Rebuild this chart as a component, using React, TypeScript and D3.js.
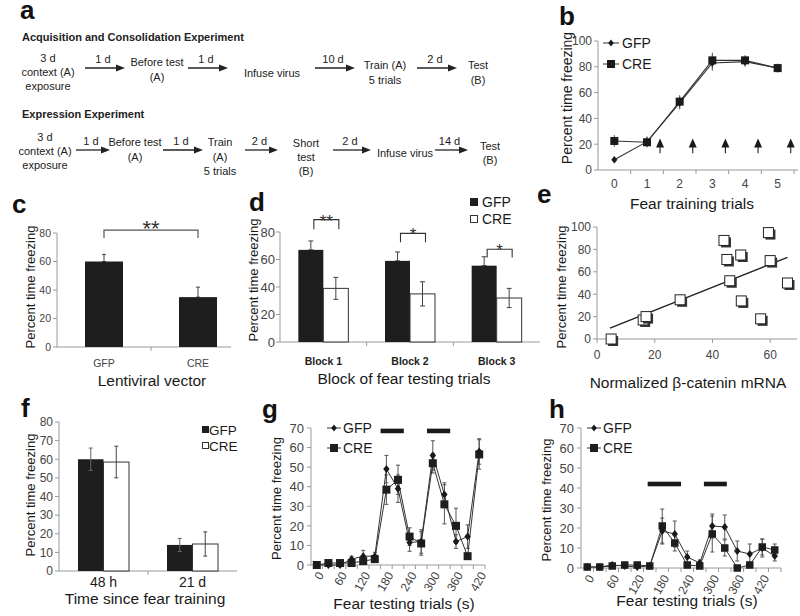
import React from 'react';
import * as d3 from 'd3';

const FONT = '"Liberation Sans", Arial, Helvetica, sans-serif';
const NARROW = '"Liberation Sans Narrow", "Arial Narrow", "Liberation Sans", Arial, sans-serif';
const AX = '#9a9a9a';
const TXT = '#1a1a1a';
const TICK_TXT = '#444';
const BAR = '#1e1e1e';

// ---------------- Panel a (timeline) ----------------
const acqSteps = [['3 d', 'context (A)', 'exposure'], ['Before test', '(A)'], ['Infuse virus'], ['Train (A)', '5 trials'], ['Test', '(B)']];
const acqIntervals = ['1 d', '1 d', '10 d', '2 d'];
const expSteps = [['3 d', 'context (A)', 'exposure'], ['Before test', '(A)'], ['Train', '(A)', '5 trials'], ['Short', 'test', '(B)'], ['Infuse virus'], ['Test', '(B)']];
const expIntervals = ['1 d', '1 d', '2 d', '2 d', '14 d'];

// ---------------- Panel b ----------------
const trainTrials = [0, 1, 2, 3, 4, 5];
const bGfp = [8, 22, 52, 83, 84, 79];
const bGfpErr = [1, 4, 5, 6, 4, 3];
const bCre = [22.5, 21.5, 53, 85, 85, 79];
const bCreErr = [4.5, 4, 5, 6, 4, 3.5];
const bShocks = [1.4, 2.4, 3.4, 4.4, 5.4];
const bYTicks = [0, 20, 40, 60, 80, 100];

// ---------------- Panel c ----------------
const cGroups = ['GFP', 'CRE'];
const cValues = [60, 35];
const cErr = [5, 7];
const cYTicks = [0, 20, 40, 60, 80];

// ---------------- Panel d ----------------
const dBlocks = ['Block 1', 'Block 2', 'Block 3'];
const dGfp = [67, 59, 55.5];
const dGfpErr = [6.5, 6.5, 6.5];
const dCre = [39, 35, 32];
const dCreErr = [8, 8.8, 7];
const dSig = ['**', '*', '*'];
const dYTicks = [0, 20, 40, 60, 80];

// ---------------- Panel e ----------------
const eMrna = [4.9, 16, 17, 28.8, 44, 45, 46, 49.8, 50, 56.7, 59.4, 60, 66];
const eFreeze = [0, 17, 20, 35, 88, 71, 52, 75, 34, 18, 95, 70, 50];
const eXTicks = [0, 20, 40, 60];
const eYTicks = [0, 20, 40, 60, 80, 100];

// ---------------- Panel f ----------------
const fTimes = ['48 h', '21 d'];
const fGfp = [60, 14];
const fGfpErr = [6, 3.5];
const fCre = [58.5, 14.5];
const fCreErr = [8.5, 6.5];
const fYTicks = [0, 10, 20, 30, 40, 50, 60, 70, 80];

// ---------------- Panel g ----------------
const gTimes = [0, 30, 60, 90, 120, 150, 180, 210, 240, 270, 300, 330, 360, 390, 420];
const gGfp = [0, 0, 0, 3, 4.5, 4.5, 49, 39, 11.5, 12, 56, 36, 12, 14.5, 58];
const gGfpErr = [0.5, 0.5, 0.5, 1.5, 3, 2, 7, 7, 4.5, 6, 7.5, 6, 3.5, 6, 6.5];
const gCre = [0, 1, 1, 1, 2, 3, 38.5, 43.5, 14.5, 11, 52, 31, 20, 4.5, 56.5];
const gCreErr = [0.5, 0.5, 0.5, 1, 1.5, 1.5, 7.5, 7.5, 4.5, 6, 5, 10, 9, 1, 7.5];
const gTone = [[180, 240], [300, 360]];
const gXLabels = [0, 60, 120, 180, 240, 300, 360, 420];
const gYTicks = [0, 10, 20, 30, 40, 50, 60, 70];

// ---------------- Panel h ----------------
const hTimes = [0, 30, 60, 90, 120, 150, 180, 210, 240, 270, 300, 330, 360, 390, 420, 450];
const hGfp = [0.5, 0.5, 1.5, 1, 0.5, 1, 18.5, 17, 5.5, 2.5, 21, 20.5, 8.5, 7, 10, 6];
const hGfpErr = [0.5, 0.5, 1, 1, 0.5, 0.5, 6.5, 6.5, 3, 1.5, 6, 6, 5, 5, 4.5, 2.5];
const hCre = [0.5, 0.5, 1, 1.5, 1.5, 1, 21, 12.5, 1.5, 1, 17, 10, 0, 1.5, 10.5, 9];
const hCreErr = [0.5, 0.5, 0.5, 0.5, 0.5, 0.5, 8.5, 4, 0.5, 0.5, 9, 4, 0.5, 0.5, 4, 3];
const hTone = [[160, 240], [295, 350]];
const hXLabels = [0, 60, 120, 180, 240, 300, 360, 420];
const hYTicks = [0, 10, 20, 30, 40, 50, 60, 70];

// ---------------- helpers ----------------
const diamondPath = (x: number, y: number, r: number) =>
  `M${x},${y - r}L${x + r * 0.8},${y}L${x},${y + r}L${x - r * 0.8},${y}Z`;

function PanelLetter({ x, y, t }: any) {
  return <text x={x} y={y} fontSize={26} fontWeight="bold" fill="#111">{t}</text>;
}

function YTitle({ x, y, t, size = 13 }: any) {
  return (
    <text transform={`translate(${x},${y}) rotate(-90)`} textAnchor="middle" fontSize={size} fill={TXT}>{t}</text>
  );
}

function YAxis({ scale, ticks, x, labelX, size, font = FONT }: any) {
  const [r0, r1] = scale.range();
  return (
    <g>
      <line x1={x} x2={x} y1={r0} y2={r1} stroke={AX} />
      {ticks.map((t: number) => (
        <g key={t}>
          <line x1={x - 4} x2={x} y1={scale(t)} y2={scale(t)} stroke={AX} />
          <text x={labelX} y={scale(t) + size * 0.36} textAnchor="end" fontSize={size} fill={TICK_TXT} fontFamily={font}>{t}</text>
        </g>
      ))}
    </g>
  );
}

function ErrBar({ x, y0, y1, cap = 4, color = '#333', w = 1 }: any) {
  return (
    <g stroke={color} strokeWidth={w}>
      <line x1={x} x2={x} y1={y0} y2={y1} />
      {cap > 0 && <line x1={x - cap / 2} x2={x + cap / 2} y1={y0} y2={y0} />}
      {cap > 0 && <line x1={x - cap / 2} x2={x + cap / 2} y1={y1} y2={y1} />}
    </g>
  );
}

function Arrow({ x1, x2, y }: any) {
  return (
    <g>
      <line x1={x1} x2={x2 - 7} y1={y} y2={y} stroke="#222" strokeWidth={1.3} />
      <polygon points={`${x2},${y} ${x2 - 9},${y - 3.5} ${x2 - 9},${y + 3.5}`} fill="#222" />
    </g>
  );
}

function Steps({ steps, xs, ys }: any) {
  return (
    <g>
      {steps.map((lines: string[], i: number) =>
        lines.map((ln, j) => (
          <text key={i + '-' + j} x={xs[i]} y={ys[i] - (lines.length - 1) * 7.2 + j * 14.4 + 4} textAnchor="middle" fontSize={11} fill="#222">{ln}</text>
        ))
      )}
    </g>
  );
}

function Intervals({ labels, spans, y }: any) {
  return (
    <g>
      {labels.map((l: string, i: number) => (
        <g key={i}>
          <Arrow x1={spans[i][0]} x2={spans[i][1]} y={y} />
          <text x={(spans[i][0] + spans[i][1]) / 2 - 2} y={y - 5} textAnchor="middle" fontSize={11} fill="#222">{l}</text>
        </g>
      ))}
    </g>
  );
}

// ---------------- Panels ----------------
function PanelA() {
  return (
    <g>
      <PanelLetter x={20} y={19} t="a" />
      <text x={22} y={41} fontSize={11} fontWeight="bold" fill="#222">Acquisition and Consolidation Experiment</text>
      <Steps steps={acqSteps} xs={[48, 157, 272, 385, 478]} ys={[72, 69.5, 73, 72.5, 72.5]} />
      <Intervals labels={acqIntervals} spans={[[85, 125], [188, 228], [315, 355], [417, 457]]} y={68} />
      <text x={22} y={118} fontSize={11} fontWeight="bold" fill="#222">Expression Experiment</text>
      <Steps steps={expSteps} xs={[45, 135, 220, 306, 405, 490]} ys={[151, 149.5, 156.5, 157, 153, 153]} />
      <Intervals labels={expIntervals} spans={[[76, 110], [163, 203], [245, 278], [333, 371], [435, 468]]} y={150} />
    </g>
  );
}

function PanelB() {
  const x = d3.scaleLinear().domain([-0.5, 5.5]).range([598, 794]);
  const y = d3.scaleLinear().domain([0, 100]).range([170, 41]);
  const line = d3.line<number>().x((_, i) => x(trainTrials[i])).y((d) => y(d));
  return (
    <g>
      <PanelLetter x={559} y={25} t="b" />
      <YAxis scale={y} ticks={bYTicks} x={598} labelX={592} size={12} />
      <line x1={598} x2={798} y1={170} y2={170} stroke={AX} />
      {trainTrials.map((t) => (
        <g key={t}>
          <line x1={x(t + 0.5)} x2={x(t + 0.5)} y1={170} y2={174} stroke={AX} />
          <text x={x(t)} y={188} textAnchor="middle" fontSize={12} fill={TICK_TXT}>{t}</text>
        </g>
      ))}
      {bGfp.map((v, i) => <ErrBar key={'ge' + i} x={x(trainTrials[i])} y0={y(v - bGfpErr[i])} y1={y(v + bGfpErr[i])} cap={0} color="#555" />)}
      {bCre.map((v, i) => <ErrBar key={'ce' + i} x={x(trainTrials[i])} y0={y(v - bCreErr[i])} y1={y(v + bCreErr[i])} cap={0} color="#555" />)}
      <path d={line(bGfp) || ''} fill="none" stroke="#333" strokeWidth={1.1} />
      <path d={line(bCre) || ''} fill="none" stroke="#333" strokeWidth={1.1} />
      {bGfp.map((v, i) => <path key={'gm' + i} d={diamondPath(x(trainTrials[i]), y(v), 3.8)} fill="#1a1a1a" />)}
      {bCre.map((v, i) => <rect key={'cm' + i} x={x(trainTrials[i]) - 4} y={y(v) - 4} width={8} height={8} fill="#1a1a1a" />)}
      {bShocks.map((s, i) => (
        <g key={'s' + i}>
          <line x1={x(s)} x2={x(s)} y1={y(18)} y2={y(13)} stroke="#333" strokeWidth={1.2} />
          <polygon points={`${x(s)},${y(24.5)} ${x(s) - 4},${y(17.5)} ${x(s) + 4},${y(17.5)}`} fill="#1a1a1a" />
        </g>
      ))}
      {/* legend */}
      <line x1={603} x2={619} y1={43} y2={43} stroke="#333" />
      <path d={diamondPath(611, 43, 3.5)} fill="#1a1a1a" />
      <text x={622} y={48} fontSize={14} fill={TXT}>GFP</text>
      <line x1={603} x2={619} y1={64} y2={64} stroke="#333" />
      <rect x={607} y={60} width={8} height={8} fill="#1a1a1a" />
      <text x={622} y={69} fontSize={14} fill={TXT}>CRE</text>
      <YTitle x={572} y={98} t="Percent time freezing" size={14} />
      <text x={692} y={209} textAnchor="middle" fontSize={15.5} fill={TXT}>Fear training trials</text>
    </g>
  );
}

function PanelC() {
  const x = d3.scaleBand<string>().domain(cGroups).range([57, 245]);
  const y = d3.scaleLinear().domain([0, 80]).range([347, 233]);
  const bw = 38;
  const c0 = x('GFP')! + x.bandwidth() / 2;
  const c1 = x('CRE')! + x.bandwidth() / 2;
  return (
    <g>
      <PanelLetter x={12} y={213} t="c" />
      <YAxis scale={y} ticks={cYTicks} x={57} labelX={51} size={10.5} font={NARROW} />
      <line x1={57} x2={231} y1={347} y2={347} stroke={AX} />
      <line x1={x('CRE')!} x2={x('CRE')!} y1={347} y2={351} stroke={AX} />
      {cGroups.map((g, i) => {
        const cx = x(g)! + x.bandwidth() / 2;
        return (
          <g key={g}>
            <ErrBar x={cx} y0={y(cValues[i])} y1={y(cValues[i] + cErr[i])} cap={4} color="#444" />
            <rect x={cx - bw / 2} y={y(cValues[i])} width={bw} height={347 - y(cValues[i])} fill={BAR} />
            <text x={cx} y={367} textAnchor="middle" fontSize={10.5} fill={TICK_TXT} fontFamily={NARROW}>{g}</text>
          </g>
        );
      })}
      <path d={`M${c0},${y(76.5)}V${y(82)}H${c1}V${y(76.5)}`} fill="none" stroke="#555" strokeWidth={1.2} />
      <text x={(c0 + c1) / 2} y={236} textAnchor="middle" fontSize={22} fill="#333">**</text>
      <YTitle x={35} y={287} t="Percent time freezing" />
      <text x={152} y={386} textAnchor="middle" fontSize={15.5} fill={TXT}>Lentiviral vector</text>
    </g>
  );
}

function PanelD() {
  const x = d3.scaleBand<string>().domain(dBlocks).range([280, 540]);
  const y = d3.scaleLinear().domain([0, 80]).range([342, 232]);
  const bw = 25;
  const brTop = [89, 79, 67.5];
  const brLen = [7, 6.5, 6];
  return (
    <g>
      <PanelLetter x={249} y={211} t="d" />
      <YAxis scale={y} ticks={dYTicks} x={280} labelX={275} size={13} />
      <line x1={280} x2={540} y1={342} y2={342} stroke={AX} />
      {dBlocks.slice(1).map((b) => (
        <line key={b} x1={x(b)!} x2={x(b)!} y1={342} y2={346} stroke={AX} />
      ))}
      {dBlocks.map((b, i) => {
        const cx = x(b)! + x.bandwidth() / 2;
        const g0 = cx - bw / 2;
        const c0 = cx + bw / 2;
        return (
          <g key={b}>
            <ErrBar x={g0} y0={y(dGfp[i])} y1={y(dGfp[i] + dGfpErr[i])} cap={5} color="#444" />
            <rect x={cx - bw} y={y(dGfp[i])} width={bw} height={342 - y(dGfp[i])} fill={BAR} />
            <rect x={cx} y={y(dCre[i])} width={bw} height={342 - y(dCre[i])} fill="#fff" stroke="#333" />
            <ErrBar x={c0} y0={y(dCre[i] - dCreErr[i])} y1={y(dCre[i] + dCreErr[i])} cap={5} color="#444" />
            <path d={`M${g0 + 3},${y(brTop[i] - brLen[i])}V${y(brTop[i])}H${c0 + 3}V${y(brTop[i] - brLen[i])}`} fill="none" stroke="#333" strokeWidth={1.1} />
            <text x={cx + 3} y={y(brTop[i]) + 7} textAnchor="middle" fontSize={17} fill="#333">{dSig[i]}</text>
            <text x={cx} y={365} textAnchor="middle" fontSize={10.5} fontWeight="bold" fill="#222" fontFamily={NARROW}>{b}</text>
          </g>
        );
      })}
      <rect x={470} y={198} width={8} height={8} fill={BAR} />
      <text x={482} y={207} fontSize={14} fill={TXT}>GFP</text>
      <rect x={470.5} y={215.5} width={7} height={7} fill="#fff" stroke="#333" />
      <text x={482} y={224} fontSize={14} fill={TXT}>CRE</text>
      <YTitle x={258} y={280} t="Percent time freezing" />
      <text x={404} y={384} textAnchor="middle" fontSize={15.5} fill={TXT}>Block of fear testing trials</text>
    </g>
  );
}

function PanelE() {
  const x = d3.scaleLinear().domain([0, 69.3]).range([597, 797]);
  const y = d3.scaleLinear().domain([0, 100]).range([339, 227]);
  const mx = d3.mean(eMrna)!;
  const my = d3.mean(eFreeze)!;
  const sxy = d3.sum(eMrna.map((v, i) => (v - mx) * (eFreeze[i] - my)));
  const sxx = d3.sum(eMrna.map((v) => (v - mx) * (v - mx)));
  const slope = sxy / sxx;
  const icpt = my - slope * mx;
  const xa = 4.5;
  const xb = 66;
  const s = 10;
  return (
    <g>
      <PanelLetter x={537} y={203} t="e" />
      <YAxis scale={y} ticks={eYTicks} x={597} labelX={591} size={12} />
      <line x1={597} x2={797} y1={339} y2={339} stroke={AX} />
      {eXTicks.map((t) => (
        <g key={t}>
          <line x1={x(t)} x2={x(t)} y1={339} y2={343} stroke={AX} />
          <text x={x(t)} y={359} textAnchor="middle" fontSize={12} fill={TICK_TXT}>{t}</text>
        </g>
      ))}
      <line x1={x(xa)} x2={x(xb)} y1={y(icpt + slope * xa)} y2={y(icpt + slope * xb)} stroke="#222" strokeWidth={1.4} />
      {eMrna.map((v, i) => (
        <g key={i}>
          <rect x={x(v) - s / 2 + 2} y={y(eFreeze[i]) - s / 2 + 2} width={s} height={s} fill="#333" />
          <rect x={x(v) - s / 2} y={y(eFreeze[i]) - s / 2} width={s} height={s} fill="#fff" stroke="#222" strokeWidth={1} />
        </g>
      ))}
      <YTitle x={566} y={287} t="Percent time freezing" />
      <text x={688} y={388} textAnchor="middle" fontSize={15.5} fill={TXT}>Normalized β-catenin mRNA</text>
    </g>
  );
}

function PanelF() {
  const x = d3.scaleBand<string>().domain(fTimes).range([59, 237]);
  const y = d3.scaleLinear().domain([0, 80]).range([571, 422]);
  const bw = 25.5;
  return (
    <g>
      <PanelLetter x={21} y={417} t="f" />
      <YAxis scale={y} ticks={fYTicks} x={59} labelX={53} size={12} />
      <line x1={59} x2={237} y1={571} y2={571} stroke={AX} />
      <line x1={x('21 d')!} x2={x('21 d')!} y1={571} y2={575} stroke={AX} />
      {fTimes.map((t, i) => {
        const cx = x(t)! + x.bandwidth() / 2;
        return (
          <g key={t}>
            <rect x={cx - bw} y={y(fGfp[i])} width={bw} height={571 - y(fGfp[i])} fill={BAR} />
            <rect x={cx} y={y(fCre[i])} width={bw} height={571 - y(fCre[i])} fill="#fff" stroke="#333" />
            <ErrBar x={cx - bw / 2} y0={y(fGfp[i] - fGfpErr[i])} y1={y(fGfp[i] + fGfpErr[i])} cap={4} color="#666" />
            <ErrBar x={cx + bw / 2} y0={y(fCre[i] - fCreErr[i])} y1={y(fCre[i] + fCreErr[i])} cap={4} color="#444" />
            <text x={cx} y={587} textAnchor="middle" fontSize={14} fill={TXT}>{t}</text>
          </g>
        );
      })}
      <rect x={202} y={426} width={7} height={7} fill={BAR} />
      <text x={209} y={435} fontSize={13.5} fill={TXT}>GFP</text>
      <rect x={202.5} y={442.5} width={6} height={6} fill="#fff" stroke="#333" />
      <text x={209} y={451} fontSize={13.5} fill={TXT}>CRE</text>
      <YTitle x={35} y={495} t="Percent time freezing" />
      <text x={145} y={604} textAnchor="middle" fontSize={15.5} fill={TXT}>Time since fear training</text>
    </g>
  );
}

function TimeCourse({ letter, letterPos, times, gfp, gfpErr, cre, creErr, tone, xLabels, yTicks, x0, x1, y0, y1, toneVal, yLabelX, yLabelTicks, titlePos, legX, sq }: any) {
  const x = d3.scaleBand<number>().domain(times).range([x0, x1]);
  const t2px = d3.scaleLinear().domain([0, 30]).range([x0, x0 + x.bandwidth()]);
  const y = d3.scaleLinear().domain([0, 70]).range([y0, y1]);
  const cx = (t: number) => x(t)! + x.bandwidth() / 2;
  const line = d3.line<number>().x((_, i) => cx(times[i])).y((d) => y(d));
  return (
    <g>
      <PanelLetter x={letterPos[0]} y={letterPos[1]} t={letter} />
      <YAxis scale={y} ticks={yTicks} x={x0} labelX={yLabelTicks} size={13} />
      <line x1={x0} x2={x1} y1={y0} y2={y0} stroke={AX} />
      {times.map((t: number) => (
        <line key={'tk' + t} x1={x(t)! + x.bandwidth()} x2={x(t)! + x.bandwidth()} y1={y0} y2={y0 + 4} stroke={AX} />
      ))}
      {xLabels.map((t: number) => (
        <text key={'xl' + t} transform={`translate(${cx(t) + 4},${y0 + 8}) rotate(-60)`} textAnchor="end" dominantBaseline="central" fontSize={12} fill={TICK_TXT}>{t}</text>
      ))}
      {tone.map((tt: number[], i: number) => (
        <rect key={'tone' + i} x={t2px(tt[0])} y={y(toneVal) - 2.3} width={t2px(tt[1]) - t2px(tt[0])} height={4.6} fill="#1a1a1a" />
      ))}
      {gfp.map((v: number, i: number) => <ErrBar key={'ge' + i} x={cx(times[i])} y0={y(Math.max(0, v - gfpErr[i]))} y1={y(v + gfpErr[i])} cap={4} color="#555" />)}
      {cre.map((v: number, i: number) => <ErrBar key={'ce' + i} x={cx(times[i])} y0={y(Math.max(0, v - creErr[i]))} y1={y(v + creErr[i])} cap={4} color="#555" />)}
      <path d={line(gfp) || ''} fill="none" stroke="#333" strokeWidth={1} />
      <path d={line(cre) || ''} fill="none" stroke="#333" strokeWidth={1} />
      {cre.map((v: number, i: number) => <rect key={'cm' + i} x={cx(times[i]) - sq / 2} y={y(v) - sq / 2} width={sq} height={sq} fill="#1e1e1e" />)}
      {gfp.map((v: number, i: number) => <path key={'gm' + i} d={diamondPath(cx(times[i]), y(v), 4)} fill="#1a1a1a" />)}
      <line x1={legX} x2={legX + 14} y1={428} y2={428} stroke="#333" />
      <path d={diamondPath(legX + 7, 428, 3.5)} fill="#1a1a1a" />
      <text x={legX + 16} y={433} fontSize={14} fill={TXT}>GFP</text>
      <line x1={legX} x2={legX + 14} y1={448} y2={448} stroke="#333" />
      <rect x={legX + 3} y={444} width={8} height={8} fill="#1e1e1e" />
      <text x={legX + 16} y={453} fontSize={14} fill={TXT}>CRE</text>
      <YTitle x={yLabelX} y={(y0 + y1) / 2 + 2} t="Percent time freezing" />
      <text x={titlePos[0]} y={titlePos[1]} textAnchor="middle" fontSize={15.5} fill={TXT}>Fear testing trials (s)</text>
    </g>
  );
}

export default function App() {
  return (
    <svg width={800} height={616} viewBox="0 0 800 616" style={{ position: 'absolute', left: 0, top: 0, background: '#fff' }} fontFamily={FONT}>
      <rect width={800} height={616} fill="#fff" />
      <PanelA />
      <PanelB />
      <PanelC />
      <PanelD />
      <PanelE />
      <PanelF />
      <TimeCourse letter="g" letterPos={[262, 418]} times={gTimes} gfp={gGfp} gfpErr={gGfpErr} cre={gCre} creErr={gCreErr}
        tone={gTone} xLabels={gXLabels} yTicks={gYTicks} x0={311} x1={485} y0={565} y1={428} toneVal={68.5}
        yLabelX={281} yLabelTicks={304} titlePos={[404, 609]} legX={327} sq={8} />
      <TimeCourse letter="h" letterPos={[549, 418]} times={hTimes} gfp={hGfp} gfpErr={hGfpErr} cre={hCre} creErr={hCreErr}
        tone={hTone} xLabels={hXLabels} yTicks={hYTicks} x0={581} x1={781} y0={568} y1={428} toneVal={42}
        yLabelX={551} yLabelTicks={574} titlePos={[687, 606]} legX={587} sq={7.5} />
    </svg>
  );
}
